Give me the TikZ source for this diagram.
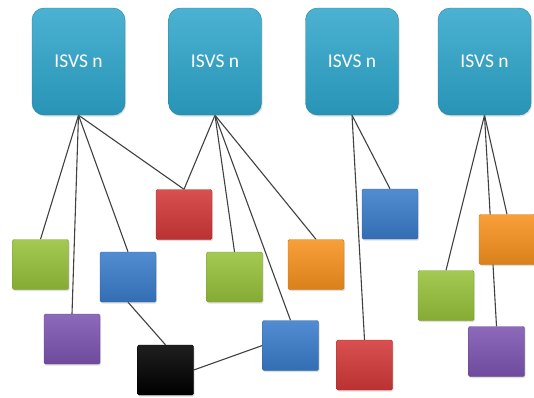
\documentclass[tikz,border=0pt]{standalone}
\usepackage{fontspec}
\setmainfont{Carlito}
\usetikzlibrary{backgrounds,shadows}
\definecolor{isvs}{HTML}{2CA4CA}
\definecolor{cgreen}{HTML}{98C23C}
\definecolor{cred}{HTML}{D43838}
\definecolor{cblue}{HTML}{3A7DCC}
\definecolor{corange}{HTML}{F7921F}
\definecolor{cpurple}{HTML}{7D55B2}
\definecolor{lnk}{HTML}{404040}
\tikzset{
  x=1pt,y=-1pt,
  isvsbox/.style={rounded corners=12pt, minimum width=93pt, minimum height=107pt,
    inner sep=0pt, top color=isvs!85!white, bottom color=isvs!90!black,
    draw=isvs!80!black, line width=0.4pt, text=white,
    font=\fontsize{19.5}{22}\selectfont, drop shadow={opacity=0.25,shadow xshift=1pt,shadow yshift=-1.5pt}},
  sq/.style={rounded corners=1.5pt, minimum width=56pt, minimum height=50pt, inner sep=0pt,
    top color=#1!88!white, bottom color=#1!88!black, draw=#1!80!black, line width=0.4pt,
    drop shadow={opacity=0.25,shadow xshift=1pt,shadow yshift=-1.5pt}},
  lk/.style={draw=lnk, line width=1.1pt},
}
\begin{document}
\begin{tikzpicture}
\useasboundingbox (0,0) rectangle (534,397);
\node[isvsbox] (s1) at (78.5,61.5) {ISVS n};
\node[isvsbox] (s2) at (215,61.5) {ISVS n};
\node[isvsbox] (s3) at (352,61.5) {ISVS n};
\node[isvsbox] (s4) at (484.5,61.5) {ISVS n};
\node[sq=cred] (red1) at (184,214.5) {};
\node[sq=cgreen] (green1) at (40.5,264.5) {};
\node[sq=cpurple] (purple1) at (72,339) {};
\node[sq=cblue] (blue1) at (128,277) {};
\node[sq=black] (black) at (165.5,370) {};
\node[sq=cgreen] (green2) at (234.5,277) {};
\node[sq=cblue] (blue2) at (290.5,345.5) {};
\node[sq=corange] (orange1) at (316,264.5) {};
\node[sq=cblue] (blue3) at (390,214) {};
\node[sq=cred] (red2) at (364.5,365) {};
\node[sq=cgreen] (green3) at (446,295.5) {};
\node[sq=corange] (orange2) at (507,239.5) {};
\node[sq=cpurple] (purple2) at (496.5,351.5) {};
\begin{pgfonlayer}{background}
\draw[lk] (s1.south) -- (green1.north);
\draw[lk] (s1.south) -- (purple1.north);
\draw[lk] (s1.south) -- (blue1.north);
\draw[lk] (s1.south) -- (red1.north);
\draw[lk] (s2.south) -- (red1.north);
\draw[lk] (s2.south) -- (green2.north);
\draw[lk] (s2.south) -- (blue2.north);
\draw[lk] (s2.south) -- (orange1.north);
\draw[lk] (s3.south) -- (blue3.north);
\draw[lk] (s3.south) -- (red2.north);
\draw[lk] (s4.south) -- (green3.north);
\draw[lk] (s4.south) -- (orange2.north);
\draw[lk] (s4.south) -- (purple2.north);
\draw[lk] (blue1.south) -- (black.north);
\draw[lk] (black.east) -- (blue2.west);
\end{pgfonlayer}
\end{tikzpicture}
\end{document}
